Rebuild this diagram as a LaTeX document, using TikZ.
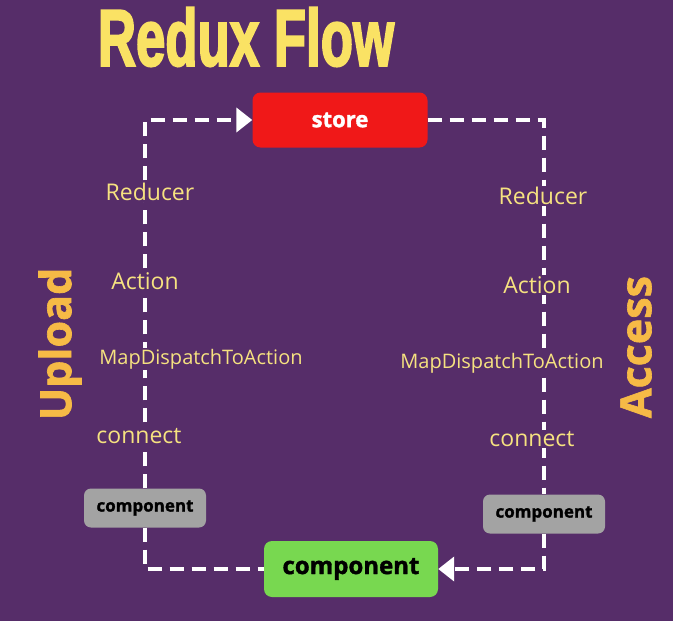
\documentclass[tikz,border=0pt]{standalone}
\usepackage{fontspec}
\setmainfont[BoldFeatures={FakeBold=1.5}]{Open Sans}
\newfontfamily\titlefont[BoldFeatures={FakeBold=3}]{Liberation Sans}
\usetikzlibrary{arrows.meta}
\definecolor{bgpurple}{RGB}{86,45,105}
\definecolor{titleyellow}{RGB}{250,226,100}
\definecolor{labelyellow}{RGB}{246,226,128}
\definecolor{sideorange}{RGB}{246,186,70}
\definecolor{storered}{RGB}{240,24,24}
\definecolor{compgreen}{RGB}{120,216,80}
\definecolor{compgray}{RGB}{163,163,163}
\tikzset{
  flow/.style={white, line width=4.5pt, dash pattern=on 14pt off 8pt},
  flowtip/.style={-{Triangle[width=24pt,length=16pt]}},
  steplabel/.style={text=labelyellow, fill=bgpurple, inner sep=1pt, font=\fontsize{23}{23}\selectfont},
  sidelabel/.style={text=sideorange, rotate=90, font=\fontsize{43}{43}\selectfont\bfseries},
  graybox/.style={fill=compgray, rounded corners=7pt, minimum width=122pt, minimum height=39pt, font=\fontsize{17}{17}\selectfont\bfseries}
}
\begin{document}
\begin{tikzpicture}[x=1pt, y=-1pt]
  %%%%% START %%%%%
  \fill[bgpurple] (0, 0) rectangle (673, 621);
  \useasboundingbox (0, 0) rectangle (673, 621);

  \node[text=titleyellow, font=\titlefont\fontsize{80}{80}\selectfont\bfseries, xscale=0.66] (title) at (246, 37) {Redux Flow};

  \node[fill=storered, rounded corners=8pt, minimum width=175pt, minimum height=55pt, text=white, font=\fontsize{22}{22}\selectfont\bfseries] (store) at (340, 120) {store};
  \node[fill=compgreen, rounded corners=8pt, minimum width=174pt, minimum height=56pt, font=\fontsize{24}{24}\selectfont\bfseries] (main) at (351, 569) {component};
  \node[graybox] (lcomp) at (145, 508) {component};
  \node[graybox] (rcomp) at (544, 514) {component};

  % upload side
  \draw[flow, flowtip] (lcomp.north) |- (store.west);
  \draw[flow] (lcomp.south) |- (main.west);
  % access side
  \draw[flow] (store.east) -| (rcomp.north);
  \draw[flow, flowtip] (rcomp.south) |- (main.east);

  \node[steplabel] (lred) at (150, 192) {Reducer};
  \node[steplabel] (lact) at (145, 281) {Action};
  \node[steplabel, font=\fontsize{20}{20}\selectfont] (lmap) at (201, 359) {MapDispatchToAction};
  \node[steplabel] (lcon) at (139, 436) {connect};

  \node[steplabel] (rred) at (543, 196) {Reducer};
  \node[steplabel] (ract) at (537, 285) {Action};
  \node[steplabel, font=\fontsize{20}{20}\selectfont] (rmap) at (502, 363) {MapDispatchToAction};
  \node[steplabel] (rcon) at (532, 439) {connect};

  \node[sidelabel] (upload) at (60, 344) {Upload};
  \node[sidelabel] (access) at (636, 347) {Access};
  %%%%% END %%%%%
\end{tikzpicture}
\end{document}
